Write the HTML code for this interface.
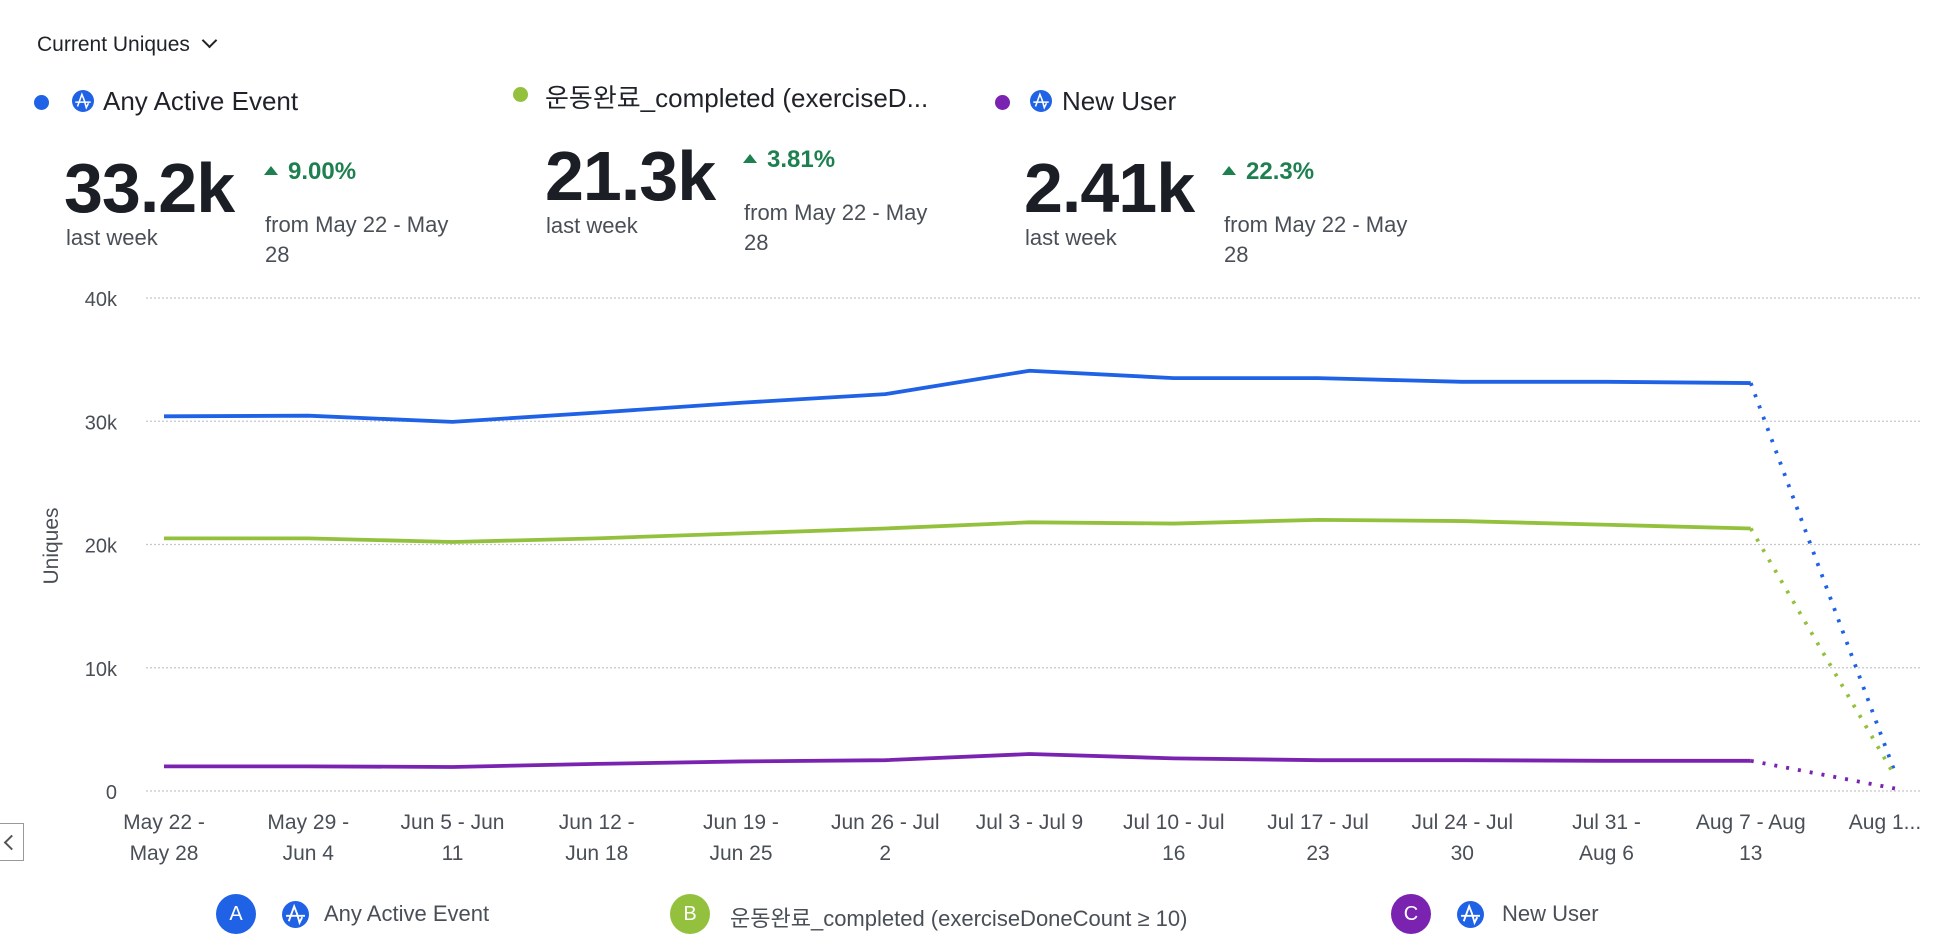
<!DOCTYPE html>
<html><head><meta charset="utf-8"><style>
body{margin:0;width:1936px;height:942px;background:#fff;font-family:"Liberation Sans","Noto Sans CJK KR",sans-serif;color:#1f2329;overflow:hidden;position:relative}
.a{position:absolute;white-space:nowrap}
.dot{position:absolute;border-radius:50%}
.big{font-size:70px;font-weight:bold;letter-spacing:-1px;color:#1b1e24}
.sub{font-size:22px;color:#4a4f57}
.pct{font-size:24px;font-weight:bold;color:#1e8050}
.tri{display:inline-block;width:0;height:0;border-left:7px solid transparent;border-right:7px solid transparent;border-bottom:9px solid #1e8050;margin-right:10px;vertical-align:4px}
.leg{font-size:26px;color:#1f2329}
</style></head><body>
<svg width="0" height="0" style="position:absolute"><defs><symbol id="amp" viewBox="0 0 20 20"><circle cx="10" cy="10" r="10" fill="#1f62e6"/><path d="M3 11 H17 M5 15 L9 4 L11 9 L13 16 L15 12" stroke="#fff" stroke-width="1.4" fill="none"/></symbol></defs></svg>

<div class="a" style="left:37px;top:33px;font-size:21px">Current Uniques <span style="display:inline-block;width:9px;height:9px;border-right:2px solid #222;border-bottom:2px solid #222;transform:rotate(45deg);margin-left:8px;vertical-align:5px"></span></div>

<div>
<div class="dot" style="left:34px;top:95px;width:15px;height:15px;background:#1f62e6"></div>
<svg class="a" style="left:72px;top:90px" width="22" height="22"><use href="#amp"/></svg>
<div class="a leg" style="left:103px;top:86px">Any Active Event</div></div>
<div>
<div class="dot" style="left:513px;top:87px;width:15px;height:15px;background:#93c13e"></div>
<div class="a leg" style="left:545px;top:78px">운동완료_completed (exerciseD...</div></div>
<div>
<div class="dot" style="left:995px;top:95px;width:15px;height:15px;background:#7a23b0"></div>
<svg class="a" style="left:1030px;top:90px" width="22" height="22"><use href="#amp"/></svg>
<div class="a leg" style="left:1062px;top:86px">New User</div></div>

<div>
<div class="a big" style="left:64px;top:148px">33.2k</div>
<div class="a sub" style="left:66px;top:225px">last week</div>
<div class="a pct" style="left:264px;top:158px"><span class="tri"></span>9.00%</div>
<div class="a sub" style="left:265px;top:210px;line-height:30px">from May 22 - May<br>28</div></div>
<div>
<div class="a big" style="left:545px;top:136px">21.3k</div>
<div class="a sub" style="left:546px;top:213px">last week</div>
<div class="a pct" style="left:743px;top:146px"><span class="tri"></span>3.81%</div>
<div class="a sub" style="left:744px;top:198px;line-height:30px">from May 22 - May<br>28</div></div>
<div>
<div class="a big" style="left:1024px;top:148px">2.41k</div>
<div class="a sub" style="left:1025px;top:225px">last week</div>
<div class="a pct" style="left:1222px;top:158px"><span class="tri"></span>22.3%</div>
<div class="a sub" style="left:1224px;top:210px;line-height:30px">from May 22 - May<br>28</div></div>

<div class="a" style="left:-2px;top:823px;width:26px;height:38px;border:1.5px solid #999;box-sizing:border-box;background:#fff"><span style="position:absolute;left:7px;top:13px;width:9px;height:9px;border-left:2px solid #555;border-bottom:2px solid #555;transform:rotate(45deg)"></span></div>

<svg id="chart" class="a" style="left:0;top:0" width="1936" height="942"></svg>

<div>
<div class="dot" style="left:216px;top:894px;width:40px;height:40px;background:#1f62e6;color:#fff;font-size:20px;text-align:center;line-height:40px">A</div>
<svg class="a" style="left:282px;top:901px" width="27" height="27"><use href="#amp"/></svg>
<div class="a" style="left:324px;top:901px;font-size:22px;color:#4a4f57">Any Active Event</div>
<div class="dot" style="left:670px;top:894px;width:40px;height:40px;background:#93c13e;color:#fff;font-size:20px;text-align:center;line-height:40px">B</div>
<div class="a" style="left:730px;top:901px;font-size:22px;color:#4a4f57">운동완료_completed (exerciseDoneCount ≥ 10)</div>
<div class="dot" style="left:1391px;top:894px;width:40px;height:40px;background:#7a23b0;color:#fff;font-size:20px;text-align:center;line-height:40px">C</div>
<svg class="a" style="left:1457px;top:901px" width="27" height="27"><use href="#amp"/></svg>
<div class="a" style="left:1502px;top:901px;font-size:22px;color:#4a4f57">New User</div></div>

<script>
const categories=["May 22 -|May 28","May 29 -|Jun 4","Jun 5 - Jun|11","Jun 12 -|Jun 18","Jun 19 -|Jun 25","Jun 26 - Jul|2","Jul 3 - Jul 9","Jul 10 - Jul|16","Jul 17 - Jul|23","Jul 24 - Jul|30","Jul 31 -|Aug 6","Aug 7 - Aug|13","Aug 1..."];
const seriesA=[30400,30450,29950,30700,31500,32200,34100,33500,33500,33200,33200,33100,1500];
const seriesB=[20500,20500,20200,20500,20900,21300,21800,21700,22000,21900,21600,21300,1200];
const seriesC=[2000,2000,1950,2200,2400,2500,3000,2650,2500,2500,2450,2450,200];
const yTicks=[0,10000,20000,30000,40000];
const yTickLabels=["0","10k","20k","30k","40k"];
const NS="http://www.w3.org/2000/svg",svg=document.getElementById('chart');
const x0=164,x1=1895,yb=791,yt=298;
const xs=i=>x0+(x1-x0)*i/(categories.length-1);
const ys=v=>yb-(yb-yt)*v/40000;
function mk(t,a){const e=document.createElementNS(NS,t);for(const k in a)e.setAttribute(k,a[k]);svg.appendChild(e);return e;}
yTicks.forEach((v,i)=>{
 const g=mk('line',{x1:146,x2:1922,y1:ys(v),y2:ys(v),stroke:'#c4c7cc','stroke-width':1.3,'stroke-dasharray':'2 2'});
 
 
 const t=mk('text',{x:117,y:ys(v)+8,'text-anchor':'end','font-size':20,fill:'#4a4f57','font-family':'Liberation Sans'});
 t.textContent=yTickLabels[i];
 
 
});
const yt2=mk('text',{x:0,y:0,transform:'translate(58,546) rotate(-90)','text-anchor':'middle','font-size':21,fill:'#4a4f57','font-family':'Liberation Sans'});
yt2.textContent='Uniques';


categories.forEach((c,i)=>{
 const parts=c.split('|');
 parts.forEach((p,j)=>{
  const t=mk('text',{x:i==12?xs(i)-10:xs(i),y:829+j*31,'text-anchor':'middle','font-size':21,fill:'#4a4f57','font-family':'Liberation Sans'});
  t.textContent=p;
  
  
 });
});
[[seriesA,'#1f62e6','series-any-active-event'],[seriesB,'#93c13e','series-exercise-completed'],[seriesC,'#7a23b0','series-new-user']].forEach(([d,col,name])=>{
 const n=d.length;
 const pts=d.slice(0,n-1).map((v,i)=>xs(i)+','+ys(v)).join(' ');
 const l=mk('polyline',{points:pts,fill:'none',stroke:col,'stroke-width':3.8,'stroke-linejoin':'round'});
 
 
 const dl=mk('line',{x1:xs(n-2),y1:ys(d[n-2]),x2:xs(n-1),y2:ys(d[n-1]),stroke:col,'stroke-width':3.8,'stroke-dasharray':'3 9'});
 
 
});
</script>
</body></html>
